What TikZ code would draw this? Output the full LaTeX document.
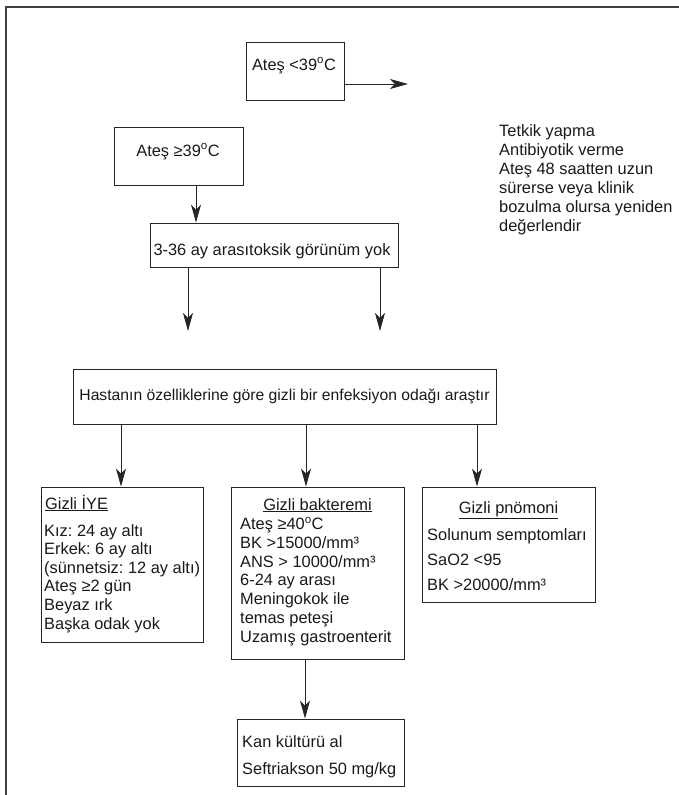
\documentclass[tikz,border=0pt]{standalone}
\usepackage{fontspec}
\setmainfont{Liberation Sans}
\usetikzlibrary{arrows.meta}
\frenchspacing
\begin{document}
\begin{tikzpicture}[x=1pt,y=-1pt,
  box/.style={draw=black!85,line width=0.9pt,inner sep=0pt,rectangle},
  txt/.style={inner sep=0pt,font=\fontsize{16.4}{18.7}\selectfont,text=black!90},
  arr/.style={draw=black!85,line width=0.9pt,-{Stealth[length=18pt,width=10pt,inset=5pt]}}]
\useasboundingbox (0,0) rectangle (679,795);
% frame
\draw[black!75,line width=1.8pt] (679,7) -- (6,7) -- (6,795);
% boxes
\node[box,minimum width=98pt,minimum height=58pt] (a39) at (295,71) {};
\node[box,minimum width=129pt,minimum height=58pt] (b39) at (178.5,156) {};
\node[box,minimum width=248pt,minimum height=44pt] (c336) at (274,245) {};
\node[box,minimum width=423pt,minimum height=55pt] (hast) at (284.5,396.5) {};
\node[box,minimum width=162pt,minimum height=155pt] (iye) at (122,564.5) {};
\node[box,minimum width=173pt,minimum height=172pt] (bak) at (317.5,573) {};
\node[box,minimum width=173pt,minimum height=115pt] (pno) at (508.5,544.5) {};
\node[box,minimum width=167pt,minimum height=67pt] (kan) at (320.5,752.5) {};
% texts (multi-line nodes: base = baseline of last line)
\node[txt,anchor=base] (ta39) at (294,70) {Ateş <39\textsuperscript{o}C};
\node[txt,anchor=base west,align=left,font=\fontsize{16.4}{19}\selectfont] (ttet) at (499,231) {Tetkik yapma\\Antibiyotik verme\\Ateş 48 saatten uzun\\sürerse veya klinik\\bozulma olursa yeniden\\değerlendir};
\node[txt,anchor=base] (tb39) at (178,156) {Ateş ≥39\textsuperscript{o}C};
\node[txt,anchor=base] (tc336) at (272,255) {3-36 ay arasıtoksik görünüm yok};
\node[txt,anchor=base,font=\fontsize{15.7}{18}\selectfont] (thast) at (284.5,400) {Hastanın özelliklerine göre gizli bir enfeksiyon odağı araştır};
\node[txt,anchor=base west] (tiye1) at (45,509) {\underline{Gizli İYE}};
\node[txt,anchor=base west,align=left,font=\fontsize{16.4}{18.6}\selectfont] (tiye2) at (44,629) {Kız: 24 ay altı\\Erkek: 6 ay altı\\(sünnetsiz: 12 ay altı)\\Ateş ≥2 gün\\Beyaz ırk\\Başka odak yok};
\node[txt,anchor=base] (tbak1) at (317.5,510) {\underline{Gizli bakteremi}};
\node[txt,anchor=base west,align=left,font=\fontsize{16.4}{18.7}\selectfont] (tbak2) at (240,642) {Ateş ≥40\textsuperscript{o}C\\BK >15000/mm³\\ANS > 10000/mm³\\6-24 ay arası\\Meningokok ile\\temas peteşi\\Uzamış gastroenterit};
\node[txt,anchor=base] (tpno1) at (508.5,513) {\underline{Gizli pnömoni}};
\node[txt,anchor=base west,align=left,font=\fontsize{16.4}{25}\selectfont] (tpno2) at (427,590) {Solunum semptomları\\SaO2 <95\\BK >20000/mm³};
\node[txt,anchor=base west,align=left,font=\fontsize{16.4}{27}\selectfont] (tkan) at (242,774) {Kan kültürü al\\Seftriakson 50 mg/kg};
% coordinates
\coordinate (e39) at (408,84);
\coordinate (xb) at (196,0);
\coordinate (xl) at (188,0);
\coordinate (xr) at (380,0);
\coordinate (el) at (188,331);
\coordinate (er) at (380,331);
\coordinate (x1) at (121,0);
\coordinate (x2) at (306,0);
\coordinate (x3) at (477,0);
\coordinate (x4) at (305,0);
% connectors
\draw[arr] (a39.east |- e39) -- (e39);
\draw[arr] (b39.south -| xb) -- (c336.north -| xb);
\draw[arr] (c336.south -| xl) -- (el);
\draw[arr] (c336.south -| xr) -- (er);
\draw[arr] (hast.south -| x1) -- (iye.north -| x1);
\draw[arr] (hast.south -| x2) -- (bak.north -| x2);
\draw[arr] (hast.south -| x3) -- (pno.north -| x3);
\draw[arr] (bak.south -| x4) -- (kan.north -| x4);
\end{tikzpicture}
\end{document}
